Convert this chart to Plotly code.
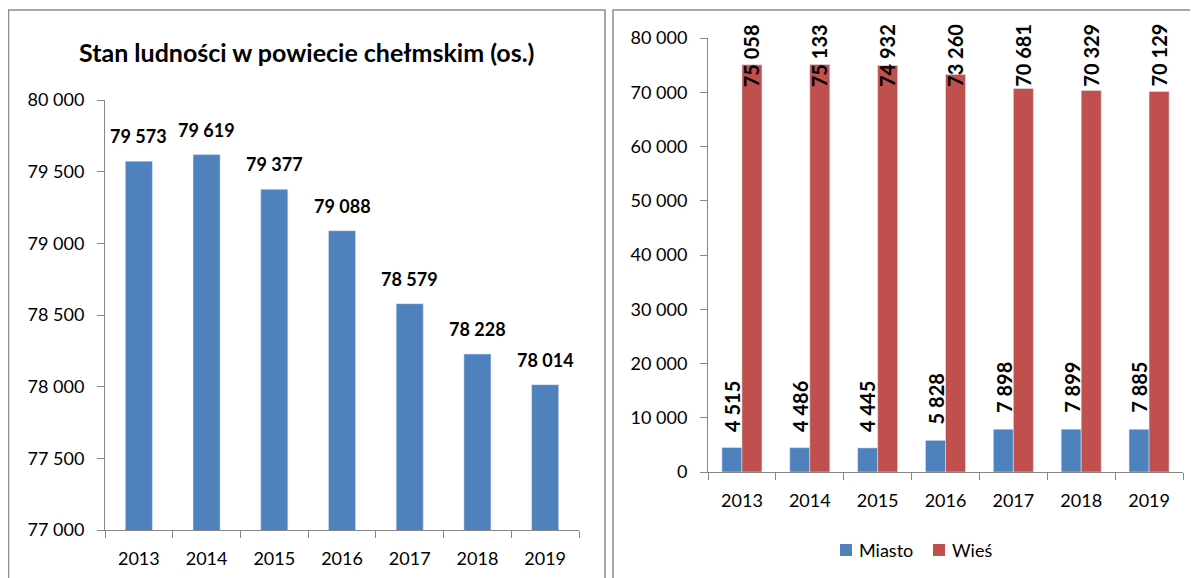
import plotly.graph_objects as go

# the page body adds an 8px margin, so the figure is drawn 8px in from the corner
OFF = 8
W, H = 1198 - OFF, 578 - OFF

years = [2013, 2014, 2015, 2016, 2017, 2018, 2019]
total = [79573, 79619, 79377, 79088, 78579, 78228, 78014]
miasto = [4515, 4486, 4445, 5828, 7898, 7899, 7885]
wies = [75058, 75133, 74932, 73260, 70681, 70329, 70129]
series_names = ["Miasto", "Wieś"]

title_left = "Stan ludności w powiecie chełmskim (os.)"

BLUE = "#4F81BD"
RED = "#C0504D"
AXIS = "#868686"
FONT = "Lato"


def px_x(v):
    return (v - OFF) / W


def px_y(v):
    return 1 - (v - OFF) / H


def fmt(v):
    return f"{v:,}".replace(",", " ")


fig = go.Figure()

fig.add_trace(go.Bar(x=years, y=total, marker_color=BLUE, showlegend=False,
                     width=0.4, xaxis="x", yaxis="y"))
fig.add_trace(go.Bar(x=years, y=miasto, name=series_names[0], marker_color=BLUE,
                     showlegend=False, xaxis="x2", yaxis="y2"))
fig.add_trace(go.Bar(x=years, y=wies, name=series_names[1], marker_color=RED,
                     showlegend=False, xaxis="x2", yaxis="y2"))

bold = dict(family=FONT, color="black", weight="bold")
annotations = []
# left chart labels
for yr, v in zip(years, total):
    annotations.append(dict(x=yr, y=v, xref="x", yref="y", text=fmt(v),
                            showarrow=False, yanchor="bottom", yshift=12,
                            font=dict(size=18, **bold)))
# right chart labels (rotated, Wieś ones pinned at the top of the plot)
for yr, m, w in zip(years, miasto, wies):
    annotations.append(dict(x=yr, y=m, xref="x2", yref="y2", text=fmt(m),
                            showarrow=False, yanchor="bottom", yshift=14,
                            xshift=-10, textangle=-90,
                            font=dict(size=20, **bold)))
    annotations.append(dict(x=yr, y=1.037, xref="x2", yref="y2 domain",
                            text=fmt(w), showarrow=False, yanchor="top",
                            xshift=10, textangle=-90,
                            font=dict(size=20, **bold)))

annotations.append(dict(x=px_x(306), y=px_y(52), xref="paper", yref="paper",
                        xanchor="center", yanchor="middle",
                        text=title_left, showarrow=False,
                        font=dict(size=25, **bold)))

# hand-drawn legend for the right chart
legend_shapes = []
for name, color, sx, tx in [(series_names[0], BLUE, 840, 857),
                            (series_names[1], RED, 933, 950)]:
    legend_shapes.append(dict(type="rect", xref="paper", yref="paper",
                              x0=px_x(sx), x1=px_x(sx + 12),
                              y0=px_y(556), y1=px_y(544),
                              fillcolor=color, line=dict(width=0)))
    annotations.append(dict(x=px_x(tx), y=px_y(550), xref="paper", yref="paper",
                            xanchor="left", yanchor="middle", text=name,
                            showarrow=False,
                            font=dict(family=FONT, size=18, color="black")))

bounds = [y - 0.5 for y in years] + [years[-1] + 0.5]


def axis_style(**kw):
    d = dict(showline=True, linecolor=AXIS, linewidth=1, ticks="outside",
             tickcolor=AXIS, ticklen=7, showgrid=False, automargin=False,
             zeroline=False, ticklabelstandoff=9,
             tickfont=dict(family=FONT, size=18, color="black"))
    d.update(kw)
    return d


def xaxis_style(**kw):
    d = axis_style(range=[bounds[0], bounds[-1]], tickmode="array",
                   tickvals=years, ticktext=[str(y) for y in years],
                   minor=dict(tickmode="array", tickvals=bounds,
                              ticks="outside", ticklen=7, tickcolor=AXIS,
                              showgrid=False),
                   **kw)
    d.update(ticks="", ticklabelstandoff=12)
    return d


fig.update_layout(
    width=W, height=H,
    margin=dict(l=0, r=0, t=0, b=0, autoexpand=False),
    paper_bgcolor="white", plot_bgcolor="white",
    separators=", ",
    barmode="group",
    bargap=0.41,
    bargroupgap=0,
    showlegend=False,
    xaxis=xaxis_style(domain=[px_x(105), px_x(579)], anchor="y"),
    yaxis=axis_style(domain=[px_y(530), px_y(100)], anchor="x",
                     range=[77000, 80000], dtick=500, tickformat=","),
    xaxis2=xaxis_style(domain=[px_x(708), px_x(1183)], anchor="y2"),
    yaxis2=axis_style(domain=[px_y(472), px_y(38)], anchor="x2",
                      range=[0, 80000], dtick=10000, tickformat=","),
    annotations=annotations,
    shapes=[
        dict(type="rect", xref="paper", yref="paper", x0=px_x(8.5), x1=px_x(605),
             y0=px_y(10), y1=px_y(600), line=dict(color="#8c8c8c", width=1.5)),
        dict(type="rect", xref="paper", yref="paper", x0=px_x(613), x1=px_x(1230),
             y0=px_y(10), y1=px_y(600), line=dict(color="#8c8c8c", width=1.5)),
    ] + legend_shapes,
)

fig.write_html("out.html")
